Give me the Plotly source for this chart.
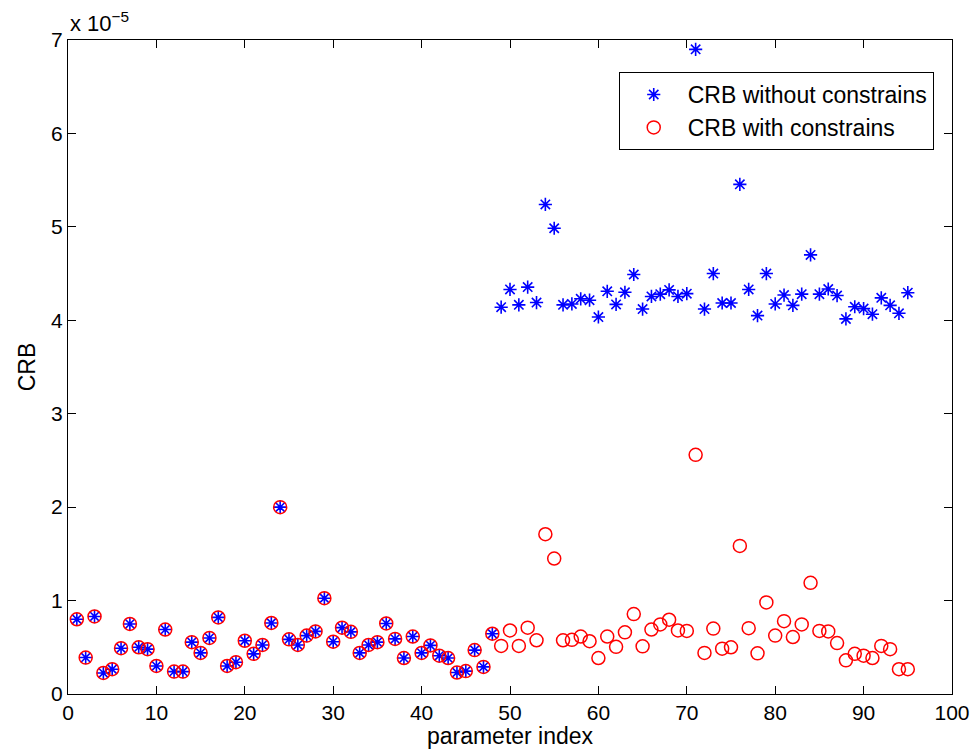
import plotly.graph_objects as go

# parameter index 1..95
idx = list(range(1, 96))

# CRB with constraints (x1e-5)
crb_with = [
    0.80, 0.39, 0.83, 0.225, 0.265, 0.49, 0.75, 0.50, 0.48, 0.30,
    0.69, 0.24, 0.24, 0.555, 0.44, 0.60, 0.82, 0.30, 0.34, 0.57,
    0.43, 0.525, 0.76, 2.00, 0.585, 0.525, 0.625, 0.67, 1.025, 0.56,
    0.71, 0.665, 0.44, 0.525, 0.555, 0.755, 0.59, 0.385, 0.615, 0.44,
    0.52, 0.41, 0.385, 0.23, 0.245, 0.47, 0.29, 0.645, 0.515, 0.68,
    0.515, 0.71, 0.575, 1.71, 1.45, 0.575, 0.58, 0.615, 0.565, 0.385,
    0.615, 0.505, 0.66, 0.855, 0.51, 0.69, 0.745, 0.795, 0.68, 0.675,
    2.56, 0.44, 0.70, 0.485, 0.50, 1.585, 0.705, 0.435, 0.98, 0.625,
    0.78, 0.61, 0.745, 1.19, 0.675, 0.67, 0.545, 0.36, 0.43, 0.41,
    0.385, 0.515, 0.48, 0.265, 0.265,
]

# CRB without constraints (x1e-5): identical for first 48 parameters
crb_without = crb_with[:48] + [
    4.14, 4.33, 4.165, 4.355, 4.19, 5.24, 4.985, 4.165, 4.175, 4.23,
    4.215, 4.035, 4.31, 4.17, 4.30, 4.49, 4.12, 4.255, 4.28, 4.325,
    4.255, 4.285, 6.90, 4.12, 4.50, 4.185, 4.185, 5.455, 4.33, 4.05,
    4.50, 4.175, 4.27, 4.16, 4.28, 4.70, 4.28, 4.335, 4.265, 4.015,
    4.145, 4.125, 4.065, 4.24, 4.16, 4.075, 4.295,
]

x_ticks = list(range(0, 101, 10))
y_ticks = list(range(0, 8))

FONT = "Liberation Sans, Arial, Helvetica, sans-serif"

fig = go.Figure()
fig.add_trace(go.Scatter(
    x=idx, y=crb_without, mode="markers", name="CRB without constrains",
    marker=dict(symbol="asterisk-open", size=11, color="#0000ff",
                line=dict(color="#0000ff", width=1.6)),
))
fig.add_trace(go.Scatter(
    x=idx, y=crb_with, mode="markers", name="CRB with constrains",
    marker=dict(symbol="circle-open", size=13, color="#ff0000",
                line=dict(color="#ff0000", width=1.5)),
))

axis_common = dict(
    showline=True, linecolor="black", linewidth=1, mirror="ticks",
    ticks="inside", ticklen=8, tickcolor="black", tickwidth=1,
    showgrid=False, zeroline=False, automargin=False,
    tickfont=dict(family=FONT, size=21, color="black"),
)

fig.update_layout(
    width=971, height=749,
    margin=dict(l=68, r=19, t=40, b=55),
    paper_bgcolor="white", plot_bgcolor="white",
    font=dict(family=FONT, size=21, color="black"),
    xaxis=dict(range=[0, 100], tickvals=x_ticks, **axis_common,
               title=dict(text="parameter index", standoff=1,
                          font=dict(family=FONT, size=23))),
    yaxis=dict(range=[0, 7], tickvals=y_ticks, **axis_common,
               title=dict(text="CRB", standoff=9,
                          font=dict(family=FONT, size=23))),
    legend=dict(x=0.623, y=0.951, xanchor="left", yanchor="top",
                bordercolor="black", borderwidth=1, bgcolor="white",
                font=dict(family=FONT, size=23), itemwidth=58),
    showlegend=True,
)

fig.add_annotation(
    xref="paper", yref="paper", x=0, y=1, xanchor="left", yanchor="bottom",
    text="x 10<sup>\u22125</sup>", showarrow=False, yshift=2,
    font=dict(family=FONT, size=22, color="black"),
)

fig.write_html("out.html")
